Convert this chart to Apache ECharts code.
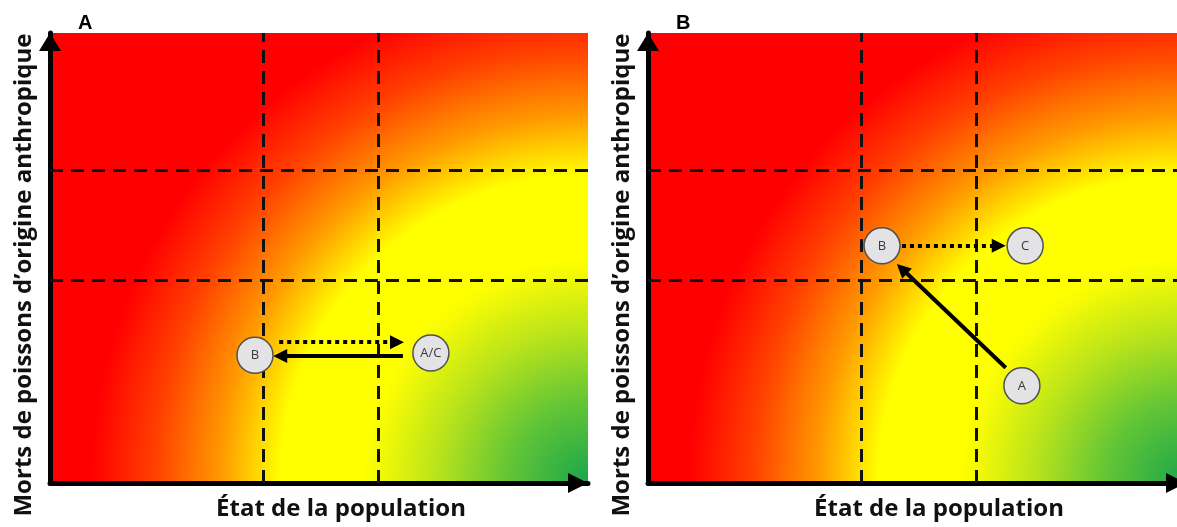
<!DOCTYPE html>
<html><head><meta charset="utf-8">
<script src="https://cdn.jsdelivr.net/npm/echarts@6/dist/echarts.min.js"></script>
<style>html,body{margin:0;padding:0;background:#fff}#c{width:1177px;height:527px}</style>
</head><body><div id="c"></div>
<script>
// ---- data ----
const panelTitles = ['A', 'B'];
const xAxisTitle = 'État de la population';
const yAxisTitle = 'Morts de poissons d’origine anthropique';
const xThresholds = [39.6, 61];
const yThresholds = [45, 69.5];

const panelALabels = ['B', 'A/C'];
const panelAX = [38.1, 70.8];
const panelAY = [28.4, 28.9];
const panelADotted = [[42.6, 31.3], [64.5, 31.3]];
const panelASolid = [[65.6, 28.2], [42.8, 28.2]];

const panelBLabels = ['B', 'C', 'A'];
const panelBX = [43.5, 70.1, 69.5];
const panelBY = [52.7, 52.7, 21.6];
const panelBDotted = [[47.2, 52.7], [65.2, 52.7]];
const panelBSolid = [[66.5, 25.6], [47.2, 47.6]];

// ---- chart ----
const chart = echarts.init(document.getElementById('c'), null, {renderer: 'canvas'});
const font = 'Open Sans';

function bg() {
  return new echarts.graphic.RadialGradient(1, 1, 1.2, [
    {offset: 0, color: '#1aa64b'},
    {offset: 0.15, color: '#63c536'},
    {offset: 0.28, color: '#b8e31c'},
    {offset: 0.39, color: '#f5fa05'},
    {offset: 0.42, color: '#ffff00'},
    {offset: 0.57, color: '#ffff00'},
    {offset: 0.68, color: '#ff9a00'},
    {offset: 0.80, color: '#ff4200'},
    {offset: 0.92, color: '#ff0000'},
    {offset: 1, color: '#ff0000'}
  ]);
}

const lefts = [50, 648];
const grids = lefts.map(l => ({left: l, top: 33, width: 538, height: 450, show: true, borderWidth: 0,
  outerBoundsMode: 'none', containLabel: false, backgroundColor: bg()}));

const xAxes = lefts.map((l, i) => ({
  type: 'value', gridIndex: i, min: 0, max: 100, offset: 2,
  splitLine: {show: false}, axisTick: {show: false}, axisLabel: {show: false},
  axisLine: {show: true, symbol: ['none', 'triangle'], symbolSize: [20, 20], symbolOffset: [0, -10],
    lineStyle: {color: '#000', width: 5}},
  name: xAxisTitle, nameLocation: 'middle', nameGap: 12,
  nameTextStyle: {fontFamily: font, fontWeight: 'bold', fontSize: 24, color: '#111', padding: [0, 0, 0, 44],
    verticalAlign: 'top'}
}));
const yAxes = lefts.map((l, i) => ({
  type: 'value', gridIndex: i, min: 0, max: 100,
  splitLine: {show: false}, axisTick: {show: false}, axisLabel: {show: false},
  axisLine: {show: true, symbol: ['none', 'triangle'], symbolSize: [22, 18], symbolOffset: [0, -9],
    lineStyle: {color: '#000', width: 5}},
  name: yAxisTitle, nameLocation: 'middle', nameGap: 14, nameRotate: 90,
  nameTextStyle: {fontFamily: font, fontWeight: 'bold', fontSize: 24, color: '#111', padding: [0, 34, 0, 0]}
}));

const panels = [
  {labels: panelALabels, xs: panelAX, ys: panelAY, dotted: panelADotted, solid: panelASolid},
  {labels: panelBLabels, xs: panelBX, ys: panelBY, dotted: panelBDotted, solid: panelBSolid}
];

const series = [];
panels.forEach((p, i) => {
  series.push({
    type: 'scatter', xAxisIndex: i, yAxisIndex: i, data: [], z: 1, silent: true,
    markLine: {
      z: 1, silent: true, symbol: ['none', 'none'], label: {show: false}, animation: false,
      lineStyle: {color: '#111', width: 3, type: [13, 8]},
      data: xThresholds.map(v => ({xAxis: v})).concat(yThresholds.map(v => ({yAxis: v})))
    }
  });
  series.push({
    type: 'lines', coordinateSystem: 'cartesian2d', xAxisIndex: i, yAxisIndex: i, z: 3, silent: true,
    symbol: ['none', 'triangle'], symbolSize: 14,
    lineStyle: {color: '#000', width: 4, opacity: 1},
    data: [
      {coords: p.dotted, lineStyle: {type: [4, 4], color: '#000', width: 4, opacity: 1}},
      {coords: p.solid, lineStyle: {type: 'solid', color: '#000', width: 4, opacity: 1}}
    ]
  });
  series.push({
    type: 'scatter', xAxisIndex: i, yAxisIndex: i, z: 6, silent: true,
    symbolSize: 36,
    itemStyle: {color: '#e3e3e6', borderColor: '#505050', borderWidth: 1.5, opacity: 1},
    label: {show: true, position: 'inside', formatter: d => d.name, fontFamily: font, fontSize: 13, color: '#3a3a3a'},
    data: p.labels.map((n, k) => ({name: n, value: [p.xs[k], p.ys[k]]}))
  });
});

chart.setOption({
  animation: false,
  backgroundColor: '#fff',
  title: panelTitles.map((t, i) => ({text: t, left: lefts[i] + 23, top: 8,
    textStyle: {fontFamily: 'Liberation Sans', fontWeight: 'bold', fontSize: 20, color: '#000'}})),
  grid: grids,
  xAxis: xAxes,
  yAxis: yAxes,
  series: series
});
</script>
</body></html>
